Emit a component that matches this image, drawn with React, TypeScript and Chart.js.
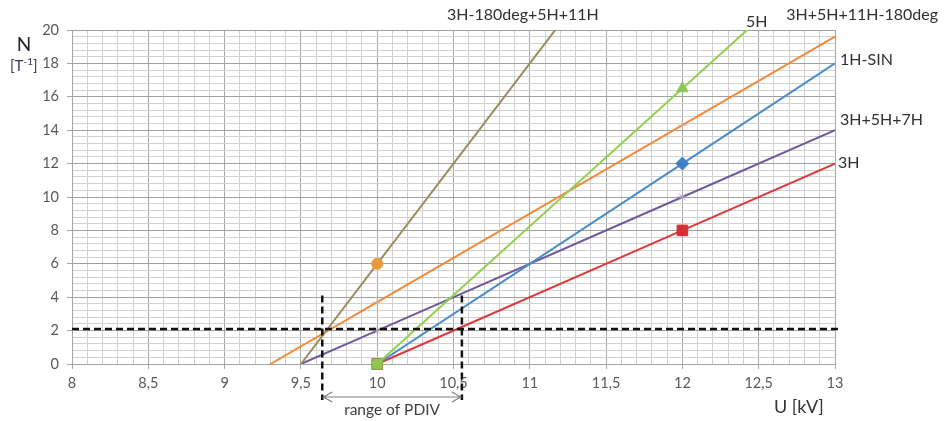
import React, { useEffect, useRef } from "react";
import { Chart, registerables } from "chart.js";

Chart.register(...registerables);

// ---- data ----
const xOlive = [9.5, 10, 12];
const yOlive = [0, 6, 30];
const xOrange = [9.3, 10, 12, 13];
const yOrange = [0, 3.7, 14.3, 19.6];
const xGreen = [10, 12, 13];
const yGreen = [0, 16.5, 24.75];
const xBlue = [10, 12, 13];
const yBlue = [0, 12, 18];
const xPurple = [9.5, 10, 12, 13];
const yPurple = [0, 2, 10, 14];
const xRed = [10, 12, 13];
const yRed = [0, 8, 12];

const seriesNames = [
  "3H-180deg+5H+11H",
  "5H",
  "3H+5H+11H-180deg",
  "1H-SIN",
  "3H+5H+7H",
  "3H",
];
// label anchors in data units (u, n)
const labelU = [10.457, 12.417, 12.68, 13.033, 13.033, 13.02];
const labelN = [20.9, 20.48, 20.9, 18.2, 14.6, 12.04];

const thresholdN = 2.1; // horizontal dashed line
const pdivLow = 9.64; // range of PDIV
const pdivHigh = 10.555;
const pdivTopN = 4.1;

const xMin = 8, xMax = 13, xStep = 0.1;
const yMin = 0, yMax = 20, yStep = 0.4;

const pts = (xs: number[], ys: number[]) => xs.map((x, i) => ({ x, y: ys[i] }));

const FONT = "Lato, 'Open Sans', sans-serif";

const annotPlugin = {
  id: "annot",
  afterDatasetsDraw(chart: any) {
    const { ctx, chartArea, scales } = chart;
    const xs = scales.x, ys = scales.y;
    ctx.save();
    // dashed lines
    ctx.strokeStyle = "#111";
    ctx.lineWidth = 2.5;
    ctx.setLineDash([7, 4]);
    ctx.beginPath();
    const yT = ys.getPixelForValue(thresholdN);
    ctx.moveTo(chartArea.left, yT);
    ctx.lineTo(chartArea.right + 4, yT);
    for (const u of [pdivLow, pdivHigh]) {
      const px = xs.getPixelForValue(u);
      ctx.moveTo(px, ys.getPixelForValue(pdivTopN));
      ctx.lineTo(px, chartArea.bottom + 36);
    }
    ctx.stroke();
    ctx.setLineDash([]);
    // arrow
    const ax1 = xs.getPixelForValue(pdivLow) + 1;
    const ax2 = xs.getPixelForValue(pdivHigh) - 1;
    const ay = chartArea.bottom + 33;
    ctx.strokeStyle = "#808080";
    ctx.lineWidth = 1.2;
    ctx.beginPath();
    ctx.moveTo(ax1, ay);
    ctx.lineTo(ax2, ay);
    ctx.moveTo(ax1 + 9, ay - 5);
    ctx.lineTo(ax1, ay);
    ctx.lineTo(ax1 + 9, ay + 5);
    ctx.moveTo(ax2 - 9, ay - 5);
    ctx.lineTo(ax2, ay);
    ctx.lineTo(ax2 - 9, ay + 5);
    ctx.stroke();
    ctx.fillStyle = "#404040";
    ctx.font = `15.5px ${FONT}`;
    ctx.textAlign = "center";
    ctx.textBaseline = "middle";
    ctx.fillText("range of PDIV", (ax1 + ax2) / 2, ay + 13);

    // series labels
    ctx.font = `16px ${FONT}`;
    ctx.textAlign = "left";
    ctx.fillStyle = "#303030";
    seriesNames.forEach((t, i) => {
      ctx.fillText(t, xs.getPixelForValue(labelU[i]), ys.getPixelForValue(labelN[i]));
    });

    // axis titles
    ctx.fillStyle = "#222";
    ctx.font = `19px ${FONT}`;
    ctx.textAlign = "center";
    ctx.fillText("N", chartArea.left - 48, chartArea.top + 15);
    ctx.font = `15px ${FONT}`;
    ctx.textAlign = "left";
    let bx = chartArea.left - 62;
    const by = chartArea.top + 36;
    ctx.fillStyle = "#3a3a5a";
    ctx.fillText("[T", bx, by);
    bx += ctx.measureText("[T").width;
    ctx.font = `10px ${FONT}`;
    ctx.fillText("-1", bx, by - 4);
    bx += ctx.measureText("-1").width;
    ctx.font = `15px ${FONT}`;
    ctx.fillText("]", bx, by);

    ctx.fillStyle = "#333";
    ctx.font = `18px ${FONT}`;
    ctx.textAlign = "left";
    ctx.fillText("U [kV]", chartArea.right - 61, chartArea.bottom + 43);
    ctx.restore();
  },
};

const isMultiple = (v: number, m: number) => {
  const r = v / m;
  return Math.abs(r - Math.round(r)) < 1e-6;
};

export default function App() {
  const ref = useRef<HTMLCanvasElement | null>(null);
  useEffect(() => {
    document.body.style.margin = "0";
    if (!ref.current) return;
    const base = { showLine: true, borderWidth: 2, fill: false, pointBorderWidth: 1 };
    const markClip = { left: 0, top: 0, right: 0, bottom: 8 };
    const chart = new Chart(ref.current, {
      type: "scatter",
      data: {
        datasets: [
          {
            ...base,
            label: seriesNames[0],
            data: pts(xOlive, yOlive),
            borderColor: "#9a8e5e",
            pointRadius: [0, 5.5, 0],
            pointStyle: "circle",
            pointBackgroundColor: "#e8993c",
            pointBorderColor: "#e8993c",
          },
          {
            ...base,
            label: seriesNames[1],
            data: pts(xGreen, yGreen),
            clip: markClip,
            borderColor: "#92d050",
            pointRadius: [7, 6.5, 0],
            pointStyle: ["rect", "triangle", "circle"],
            pointBackgroundColor: "#8cc850",
            pointBorderColor: "#8cc850",
          },
          {
            ...base,
            label: seriesNames[2],
            data: pts(xOrange, yOrange),
            borderColor: "#f38a3a",
            pointRadius: [0, 5, 5, 0],
            pointStyle: "cross",
            pointBorderColor: "rgba(200,180,170,0.8)",
          },
          {
            ...base,
            label: seriesNames[3],
            data: pts(xBlue, yBlue),
            borderColor: "#4a8bcc",
            pointRadius: [0, 6.5, 0],
            pointStyle: "rectRot",
            pointBackgroundColor: "#3f80c4",
            pointBorderColor: "#3f80c4",
          },
          {
            ...base,
            label: seriesNames[4],
            data: pts(xPurple, yPurple),
            borderColor: "#705a9c",
            pointRadius: [0, 5, 5, 0],
            pointStyle: "star",
            pointBorderColor: "rgba(170,165,185,0.9)",
          },
          {
            ...base,
            label: seriesNames[5],
            data: pts(xRed, yRed),
            clip: markClip,
            borderColor: "#e2363a",
            pointRadius: [7.5, 7.5, 0],
            pointStyle: "rect",
            pointBackgroundColor: "#d63034",
            pointBorderColor: "#d63034",
          },
        ],
      },
      options: {
        animation: false,
        responsive: true,
        maintainAspectRatio: false,
        layout: { padding: { top: 30, right: 110, left: 0, bottom: 0 } },
        plugins: { legend: { display: false }, tooltip: { enabled: false } },
        scales: {
          x: {
            type: "linear",
            min: xMin,
            max: xMax,
            afterFit: (s: any) => { s.height = 57; },
            ticks: {
              stepSize: xStep,
              autoSkip: false,
              maxRotation: 0,
              padding: 6,
              color: "#595959",
              font: { family: FONT, size: 14.5 },
              callback: (v: any) => {
                const n = Math.round(Number(v) * 10) / 10;
                return isMultiple(n, 0.5) ? String(n).replace(".", ",") : "";
              },
            },
            grid: {
              color: (c: any) => (isMultiple(c.tick.value, 0.5) ? "#a6a6a6" : "#d0d0d0"),
              tickColor: (c: any) => (isMultiple(c.tick.value, 0.5) ? "#a6a6a6" : "rgba(0,0,0,0)"),
              tickLength: 5,
            },
            border: { color: "#a6a6a6" },
          },
          y: {
            type: "linear",
            min: yMin,
            max: yMax,
            afterFit: (s: any) => { s.width = 72; },
            ticks: {
              stepSize: yStep,
              autoSkip: false,
              padding: 8,
              color: "#595959",
              font: { family: FONT, size: 14.5 },
              callback: (v: any) => {
                const n = Math.round(Number(v) * 10) / 10;
                return isMultiple(n, 2) ? String(n) : "";
              },
            },
            grid: {
              color: (c: any) => (isMultiple(c.tick.value, 2) ? "#a0a0a0" : "#d2d2d2"),
              tickColor: (c: any) => (isMultiple(c.tick.value, 2) ? "#a6a6a6" : "rgba(0,0,0,0)"),
              tickLength: 5,
            },
            border: { color: "#a6a6a6" },
          },
        },
      },
      plugins: [annotPlugin],
    } as any);
    return () => chart.destroy();
  }, []);
  return (
    <div style={{ width: 945, height: 421, position: "relative", background: "#fff" }}>
      <canvas ref={ref} />
    </div>
  );
}
